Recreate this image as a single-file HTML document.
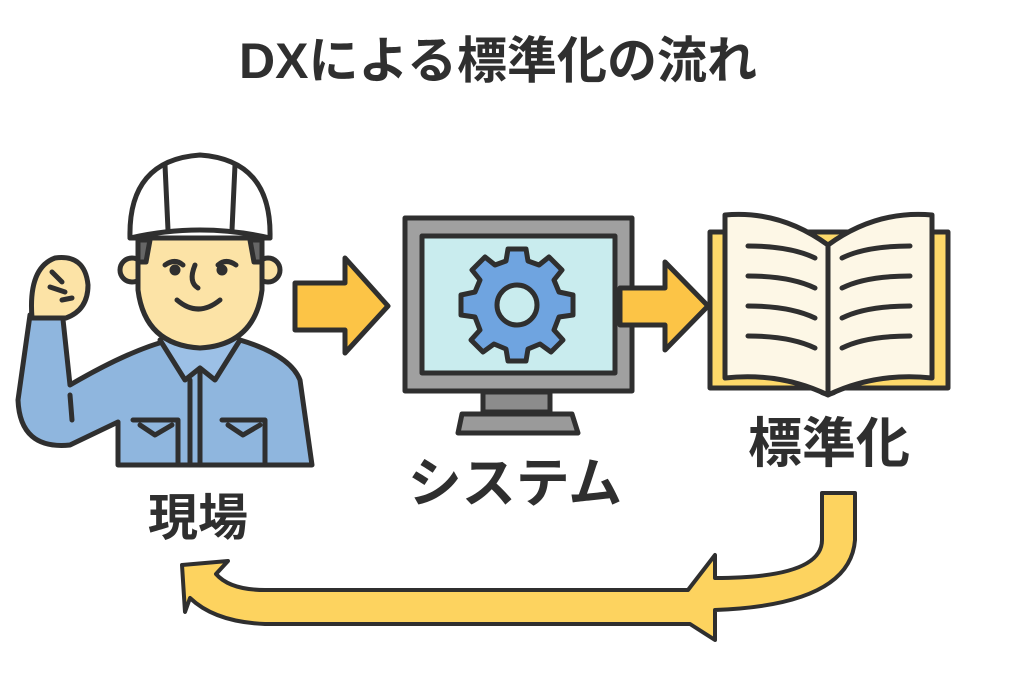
<!DOCTYPE html>
<html><head><meta charset="utf-8"><style>
html,body{margin:0;padding:0;background:#fff}
svg{display:block}
text{font-family:"Liberation Sans","Noto Sans CJK JP",sans-serif;font-weight:bold;fill:#2f2f2f}
</style></head><body>
<svg width="1024" height="683" viewBox="0 0 1024 683" xmlns="http://www.w3.org/2000/svg">
<rect width="1024" height="683" fill="#fff"/>
<text x="498" y="78" font-size="50" text-anchor="middle">DXによる標準化の流れ</text>

<g stroke="#2f2f2f" stroke-width="5" stroke-linejoin="round" stroke-linecap="round">
<path d="M30,315 L18,400 Q20,450 70,445 L118,422 L118,465 L312,465 L300,380 Q290,355 240,340 L170,340 Q130,350 70,385 L62,310 Z" fill="#8fb6de"/>
<path d="M160,340 L185,380 L200,368 L215,380 L240,340" fill="#9cc0e6"/>
<line x1="200" y1="370" x2="200" y2="465"/>
<line x1="190" y1="380" x2="190" y2="465"/>
<path d="M133,420 L178,420 L178,465 M140,425 L155,435 L172,425" fill="none"/>
<path d="M222,420 L265,420 L265,465 M228,425 L243,435 L260,425" fill="none"/>
<line x1="70" y1="395" x2="72" y2="420"/>
<path d="M32,318 Q28,268 55,258 Q85,254 88,285 Q88,310 66,318 Z" fill="#fce3a6"/>
<path d="M52,272 L62,282 M50,287 L65,292 M62,300 L72,298" fill="none"/>
<circle cx="132" cy="270" r="12" fill="#fce3a6"/>
<circle cx="268" cy="270" r="12" fill="#fce3a6"/>
<path d="M138,235 L262,235 L262,290 Q255,345 200,348 Q145,345 138,290 Z" fill="#fce3a6"/>
<path d="M138,240 L150,240 L146,262 L138,262 Z M262,240 L250,240 L254,262 L262,262 Z" fill="#666"/>
<path d="M130,238 Q128,160 200,155 Q272,160 270,238 Z" fill="#fff"/>
<path d="M130,238 Q200,222 270,238" fill="none"/>
<path d="M165,165 L168,230 M235,165 L232,230" fill="none"/>
<path d="M165,265 Q175,258 183,265 M218,265 Q226,258 236,265" fill="none"/>
<circle cx="175" cy="270" r="3" fill="#2f2f2f"/>
<circle cx="222" cy="270" r="3" fill="#2f2f2f"/>
<path d="M195,265 Q188,282 198,288" fill="none"/>
<path d="M177,300 Q198,318 220,300" fill="none"/>

<path d="M295,283 L345,283 L345,258 L388,306 L345,353 L345,330 L295,330 Z" fill="#fcc446"/>
<path d="M483,392 L550,392 L550,412 L483,412 Z" fill="#8c8c8c"/>
<path d="M462,414 L572,414 L578,433 L458,433 Z" fill="#9a9a9a"/>
<rect x="405" y="218" width="227" height="173" fill="#a0a0a0"/>
<rect x="422" y="236" width="193" height="137" fill="#c9ecee"/>
<path d="M620,288 L665,288 L665,262 L708,306 L665,350 L665,325 L620,325 Z" fill="#fcc446"/>
<path d="M710,232 L948,232 L948,388 L840,388 Q828,400 816,388 L710,388 Z" fill="#fdd96a"/>
<path d="M725,215 Q780,210 828,245 Q876,210 932,215 L932,378 Q876,372 828,395 Q780,372 725,378 Z" fill="#fdf7e6"/>
<line x1="828" y1="245" x2="828" y2="393"/>
</g>
<g transform="translate(517,305)" stroke="#2f2f2f" stroke-width="5" stroke-linejoin="round">
<path fill="#6fa4e0" d="M-9,-56 L9,-56 L11,-44 L22,-40 L32,-48 L45,-35 L37,-25 L42,-13 L56,-10 L56,10 L42,12 L37,25 L46,35 L34,47 L23,39 L11,44 L9,56 L-9,56 L-11,44 L-23,39 L-34,47 L-46,35 L-37,25 L-42,12 L-56,10 L-56,-10 L-42,-13 L-37,-25 L-45,-35 L-32,-48 L-22,-40 L-11,-44 Z"/>
<circle r="20" fill="#c9ecee"/>
</g>
<g stroke="#2f2f2f" stroke-width="5" stroke-linecap="round" fill="none">
<path d="M748,246 Q790,246 815,258 M748,276 Q790,276 815,288 M748,306 Q790,306 815,318 M748,336 Q790,336 815,348"/>
<path d="M842,258 Q866,246 910,246 M842,288 Q866,276 910,276 M842,318 Q866,306 910,306 M842,348 Q866,336 910,336"/>
</g>
<path d="M822,493 L855,493 L855,540 Q850,605 715,610 L715,640 L690,624 L265,624 Q215,622 190,598 L185,612 L182,565 L228,561 L216,574 Q230,590 265,590 L688,590 L715,555 L715,578 Q822,578 822,540 Z" fill="#fdd35f" stroke="#2f2f2f" stroke-width="4" stroke-linejoin="round"/>

<text x="198" y="535" font-size="50" text-anchor="middle">現場</text>
<text x="515" y="502" font-size="54" text-anchor="middle">システム</text>
<text x="829" y="462" font-size="54" text-anchor="middle">標準化</text>
</svg>
</body></html>
